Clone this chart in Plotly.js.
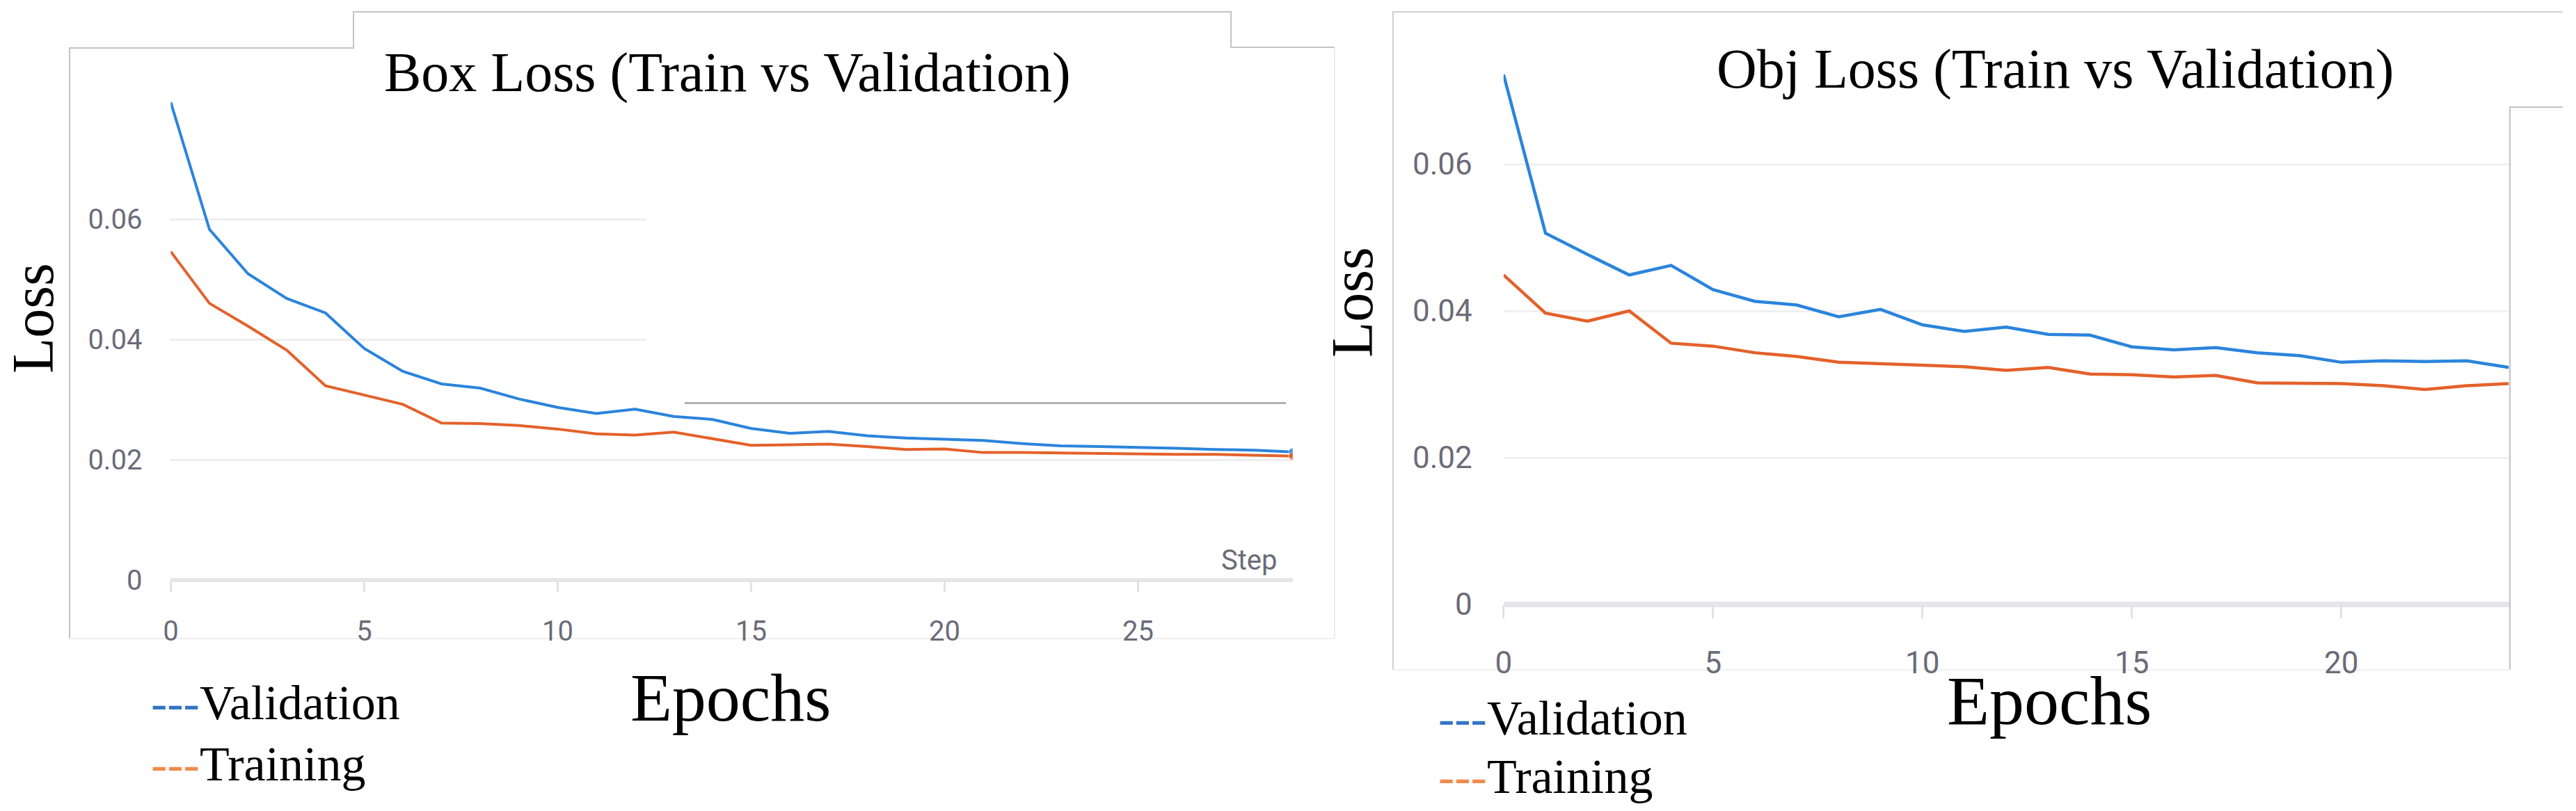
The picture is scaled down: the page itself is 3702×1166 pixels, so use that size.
<!DOCTYPE html>
<html>
<head>
<meta charset="utf-8">
<script src="https://cdn.plot.ly/plotly-3.0.1.min.js"></script>
<style>html,body{margin:0;padding:0;background:#fff;}#chart{width:3702px;height:1166px;}</style>
</head>
<body>
<div id="chart"></div>
<script>
// ---- data ----
const epochsBox = [0,1,2,3,4,5,6,7,8,9,10,11,12,13,14,15,16,17,18,19,20,21,22,23,24,25,26,27,28,29];
const valBox = [0.0794,0.0583,0.0509,0.0468,0.0444,0.0385,0.0347,0.0326,0.0319,0.0301,0.0287,0.0277,0.0284,0.0272,0.0267,0.0252,0.0244,0.0247,0.0240,0.0236,0.0234,0.0232,0.0227,0.0223,0.0222,0.0221,0.0219,0.0217,0.0216,0.0213];
const trainBox = [0.0546,0.0460,0.0422,0.0382,0.0323,0.0308,0.0292,0.0261,0.0260,0.0257,0.0251,0.0243,0.0241,0.0246,0.0235,0.0224,0.0225,0.0226,0.0222,0.0217,0.0218,0.0212,0.0212,0.0211,0.0210,0.0209,0.0209,0.0209,0.0208,0.0206];

const epochsObj = [0,1,2,3,4,5,6,7,8,9,10,11,12,13,14,15,16,17,18,19,20,21,22,23,24];
const valObj = [0.0722,0.0506,0.0477,0.0449,0.0462,0.0429,0.0413,0.0408,0.0392,0.0402,0.0381,0.0372,0.0378,0.0368,0.0367,0.0351,0.0347,0.0350,0.0343,0.0339,0.0330,0.0332,0.0331,0.0332,0.0323];
const trainObj = [0.0449,0.0397,0.0386,0.0400,0.0356,0.0352,0.0343,0.0338,0.0330,0.0328,0.0325,0.0324,0.0319,0.0323,0.0314,0.0313,0.0310,0.0312,0.0302,0.0302,0.0301,0.0298,0.0293,0.0298,0.0301];

const yTicks = [0, 0.02, 0.04, 0.06];
const titleBox = 'Box Loss (Train vs Validation)';
const titleObj = 'Obj Loss (Train vs Validation)';
const yLabel = 'Loss';
const xLabel = 'Epochs';
const stepLabel = 'Step';
const seriesNames = ['Validation', 'Training'];

// ---- style ----
const W = 3702, H = 1166;
const BLUE = '#2b84dc', ORANGE = '#e4612a';
const LEG_BLUE = '#3576c2', LEG_ORANGE = '#f08a4c';
const TICK_COLOR = '#6b6b78';
const SERIF = 'Liberation Serif, Times New Roman, serif';
const SANS = 'Roboto, Liberation Sans, Arial, sans-serif';
const px = x => x / W;
const py = y => 1 - y / H;

const lastOnly = (arr, size) => arr.map((_, i) => i === arr.length - 1 ? size : 0);

const traces = [
  {x: epochsBox, y: valBox, xaxis: 'x', yaxis: 'y', mode: 'lines+markers', name: seriesNames[0],
   line: {color: BLUE, width: 4}, marker: {color: BLUE, size: lastOnly(valBox, 12)}},
  {x: epochsBox, y: trainBox, xaxis: 'x', yaxis: 'y', mode: 'lines+markers', name: seriesNames[1],
   line: {color: ORANGE, width: 4}, marker: {color: ORANGE, size: lastOnly(trainBox, 12)}},
  {x: epochsObj, y: valObj, xaxis: 'x2', yaxis: 'y2', mode: 'lines', name: seriesNames[0],
   line: {color: BLUE, width: 4.5}},
  {x: epochsObj, y: trainObj, xaxis: 'x2', yaxis: 'y2', mode: 'lines', name: seriesNames[1],
   line: {color: ORANGE, width: 4.5}}
];

const xTickBase = {
  tick0: 0, dtick: 5, showgrid: false, zeroline: false, showline: false,
  tickcolor: '#e2e2e2', tickwidth: 3, fixedrange: true
};

function legendText(color, name) {
  return '<span style="color:' + color + '">---</span>' + name;
}
function ann(text, x, y, size, opts) {
  return Object.assign({text: text, xref: 'paper', yref: 'paper', x: px(x), y: py(y),
    xanchor: 'center', yanchor: 'middle', showarrow: false,
    font: {family: SERIF, size: size, color: '#000'}}, opts || {});
}

const layout = {
  width: W, height: H,
  margin: {l: 0, r: 0, t: 0, b: 0, pad: 0},
  paper_bgcolor: '#ffffff', plot_bgcolor: 'rgba(0,0,0,0)',
  showlegend: false,
  xaxis: Object.assign({}, xTickBase, {
    domain: [px(245.4), px(1857.8)], range: [0, 29], anchor: 'y',
    ticks: 'outside', ticklen: 16, ticklabelstandoff: 22,
    tickfont: {family: SANS, size: 40, color: TICK_COLOR}
  }),
  xaxis3: Object.assign({}, xTickBase, {
    overlaying: 'x', anchor: 'y', range: [0, 29], ticks: 'inside', ticklen: 17, showticklabels: false
  }),
  yaxis: {
    domain: [py(834), py(142)], range: [0, 0.08], tickmode: 'array', tickvals: yTicks, anchor: 'x',
    showgrid: true, gridcolor: '#eeeeee', gridwidth: 3,
    zeroline: true, zerolinecolor: '#e6e6e6', zerolinewidth: 6,
    showline: false, ticks: '', ticklabelstandoff: 40,
    tickfont: {family: SANS, size: 40, color: TICK_COLOR}, fixedrange: true
  },
  xaxis2: Object.assign({}, xTickBase, {
    domain: [px(2160.8), px(3605.5)], range: [0, 24], anchor: 'y2',
    ticks: 'outside', ticklen: 19, ticklabelstandoff: 26,
    tickfont: {family: SANS, size: 44, color: TICK_COLOR}
  }),
  xaxis4: Object.assign({}, xTickBase, {
    overlaying: 'x2', anchor: 'y2', range: [0, 24], ticks: 'inside', ticklen: 19, showticklabels: false
  }),
  yaxis2: {
    domain: [py(869), py(88.3)], range: [0, 0.074], tickmode: 'array', tickvals: yTicks, anchor: 'x2',
    showgrid: true, gridcolor: '#f0f0f0', gridwidth: 3,
    zeroline: true, zerolinecolor: '#e6e6e8', zerolinewidth: 8,
    showline: false, ticks: '', ticklabelstandoff: 44,
    tickfont: {family: SANS, size: 44, color: TICK_COLOR}, fixedrange: true
  },
  annotations: [
    ann(titleBox, 1045, 104, 80),
    ann(titleObj, 2953, 100, 80),
    ann(yLabel, 47, 458, 84, {textangle: -90}),
    ann(yLabel, 1943, 435, 84, {textangle: -90}),
    ann(xLabel, 1050, 1003, 98),
    ann(xLabel, 2945, 1007, 100),
    ann(stepLabel, 1838, 806, 40, {xanchor: 'right', font: {family: SANS, size: 40, color: TICK_COLOR}}),
    // legends
    ann(legendText(LEG_BLUE, seriesNames[0]), 215, 1010, 70, {xanchor: 'left'}),
    ann(legendText(LEG_ORANGE, seriesNames[1]), 215, 1098, 70, {xanchor: 'left'}),
    ann(legendText(LEG_BLUE, seriesNames[0]), 2065, 1032, 70, {xanchor: 'left'}),
    ann(legendText(LEG_ORANGE, seriesNames[1]), 2065, 1116, 70, {xanchor: 'left'})
  ],
  shapes: [
    // left panel frame
    {type: 'path', xref: 'paper', yref: 'paper', layer: 'below',
     path: `M${px(100)},${py(918)} L${px(100)},${py(69)} L${px(508)},${py(69)} L${px(508)},${py(17)} L${px(1769)},${py(17)} L${px(1769)},${py(68)} L${px(1918)},${py(68)}`,
     line: {color: '#c4c4c4', width: 2}},
    {type: 'line', xref: 'paper', yref: 'paper', layer: 'below',
     x0: px(1918), y0: py(68), x1: px(1918), y1: py(918), line: {color: '#ececec', width: 2}},
    {type: 'line', xref: 'paper', yref: 'paper', layer: 'below',
     x0: px(100), y0: py(918), x1: px(1918), y1: py(918), line: {color: '#efefef', width: 2}},
    // white patch hiding the upper gridlines on the right half of the left panel
    {type: 'rect', xref: 'x', yref: 'y', layer: 'between',
     x0: 12.27, y0: 0.0315, x1: 29.3, y1: 0.081, fillcolor: '#ffffff', line: {width: 0}},
    // grey horizontal rule
    {type: 'line', xref: 'paper', yref: 'paper', layer: 'above',
     x0: px(984), y0: py(579.5), x1: px(1848), y1: py(579.5), line: {color: '#a3a3a3', width: 2.5}},
    // right panel frame
    {type: 'path', xref: 'paper', yref: 'paper', layer: 'below',
     path: `M${px(2002)},${py(963)} L${px(2002)},${py(17)} L${px(3683)},${py(17)}`,
     line: {color: '#cfcfcf', width: 2}},
    {type: 'path', xref: 'paper', yref: 'paper', layer: 'below',
     path: `M${px(3607)},${py(963)} L${px(3607)},${py(154)} L${px(3683)},${py(154)}`,
     line: {color: '#c2c2c2', width: 2}},
    {type: 'line', xref: 'paper', yref: 'paper', layer: 'below',
     x0: px(2002), y0: py(963), x1: px(3607), y1: py(963), line: {color: '#f0f0f0', width: 2}}
  ]
};

Plotly.newPlot('chart', traces, layout, {staticPlot: true, displayModeBar: false});
</script>
</body>
</html>
